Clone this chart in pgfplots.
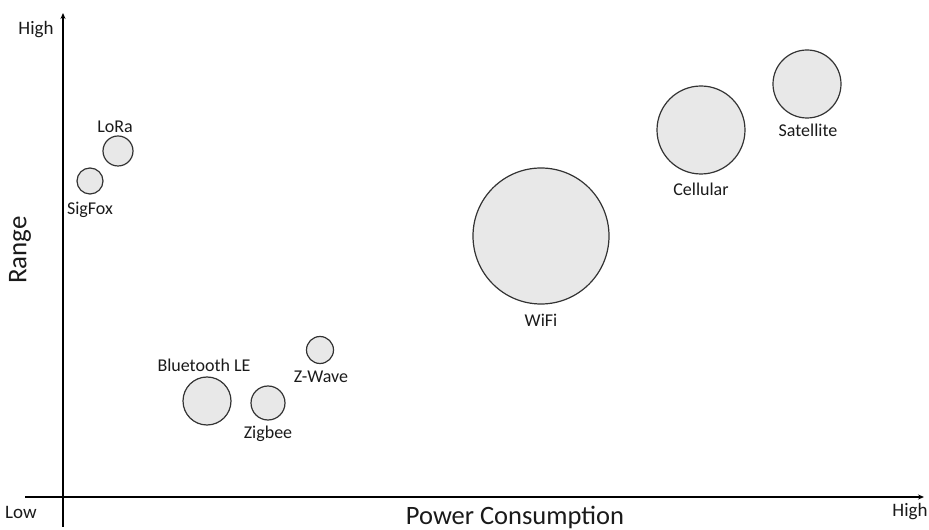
\documentclass[border=0pt]{standalone}
\usepackage{pgfplots}
\pgfplotsset{compat=1.18}
\usetikzlibrary{arrows.meta}
\usepackage{fontspec}
\setmainfont{Carlito}
\definecolor{bub}{HTML}{E8E8E8}
\definecolor{edge}{HTML}{333333}
\definecolor{txt}{HTML}{1A1A1A}
\begin{document}
\begin{tikzpicture}
\begin{axis}[
  scale only axis, width=929pt, height=530pt,
  xmin=0, xmax=929, ymin=0, ymax=530,
  hide axis, clip=false,
]
% axes lines (pixel coordinates, y measured upward)
\draw[line width=1.6pt, color=black, -{Stealth[length=6pt,width=5pt]}] (axis cs:63,3) -- (axis cs:63,517);
\draw[line width=1.6pt, color=black, -{Stealth[length=6pt,width=5pt]}] (axis cs:25,33) -- (axis cs:924,33);
% bubbles: x, y (upward), radius
\addplot[scatter, only marks, mark=*,
  scatter/use mapped color={draw=edge, fill=bub},
  mark options={line width=1.2pt},
  visualization depends on={\thisrow{r}\as\rad},
  scatter/@pre marker code/.append style={/tikz/mark size=\rad pt}]
  table[x=x, y=y] {
x y r
90 349 13
118 379 15
207 129 24
268 127 17
320 180 13.5
541 294 68
701 400 44
807 446 34
};
% labels
\begin{scope}[every node/.style={font=\fontsize{18}{20}\selectfont, text=txt}]
\node at (axis cs:90,320) {SigFox};
\node at (axis cs:115,403) {LoRa};
\node at (axis cs:204,165) {Bluetooth LE};
\node at (axis cs:268,96) {Zigbee};
\node at (axis cs:321,153) {Z-Wave};
\node at (axis cs:541,210) {WiFi};
\node at (axis cs:701,341) {Cellular};
\node at (axis cs:808,400) {Satellite};
\end{scope}
\begin{scope}[every node/.style={font=\fontsize{19}{21}\selectfont, text=txt}]
\node at (axis cs:36,500) {High};
\node at (axis cs:21,18) {Low};
\node at (axis cs:910,18) {High};
\end{scope}
\node[font=\fontsize{26.5}{30}\selectfont, text=txt] at (axis cs:515,13) {Power Consumption};
\node[font=\fontsize{27}{30}\selectfont, text=txt, rotate=90] at (axis cs:20,280) {Range};
\end{axis}
\pgfresetboundingbox
\path[use as bounding box] (0,0) rectangle (929pt,530pt);
\end{tikzpicture}
\end{document}
